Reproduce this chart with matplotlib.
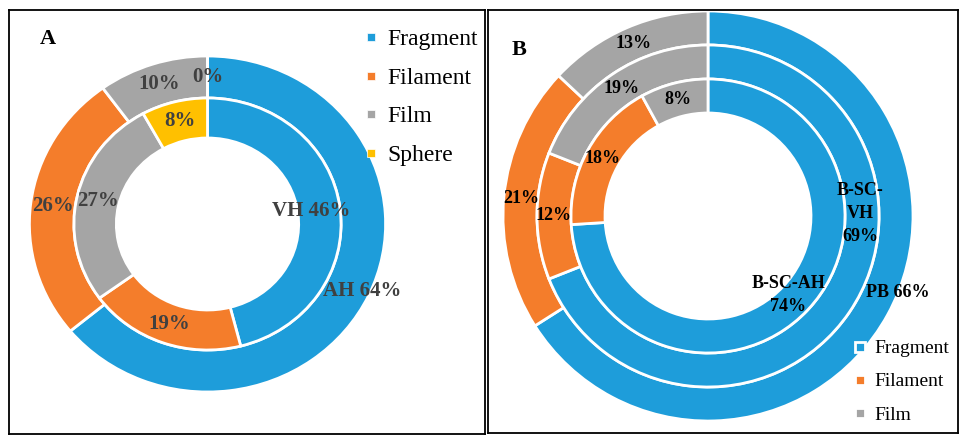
"""Two nested donut charts (A and B) of particle shape shares."""

import math

import matplotlib

matplotlib.use("Agg")
import matplotlib.pyplot as plt
from matplotlib.lines import Line2D

plt.rcParams["font.family"] = ["Liberation Serif", "DejaVu Serif"]

# --- data -------------------------------------------------------------
categories_a = ["Fragment", "Filament", "Film", "Sphere"]
ah_values = [64, 26, 10, 0]
vh_values = [46, 19, 27, 8]

categories_b = ["Fragment", "Filament", "Film"]
pb_values = [66, 21, 13]
bscvh_values = [69, 12, 19]
bscah_values = [74, 18, 8]

COLORS = ["#1E9DDA", "#F47D2B", "#A5A5A5", "#FFC000"]

W, H = 967, 442
fig = plt.figure(figsize=(W / 100, H / 100), dpi=100)


def panel_axes(x0, y0, x1, y1, xscale=1.0):
    """Axes over an image-pixel box; data units are vertical pixels."""
    ax = fig.add_axes([x0 / W, 1 - y1 / H, (x1 - x0) / W, (y1 - y0) / H])
    return ax, (x1 - x0) / xscale, (y1 - y0)


def ring(ax, values, radius, width, center, name, fontsize, color, weight,
         sep=" ", nudges=None, xscale=1.0):
    wedges, _ = ax.pie(values, radius=radius, center=center, startangle=90,
                       counterclock=False, colors=COLORS[:len(values)],
                       wedgeprops=dict(width=width, edgecolor="white", linewidth=2))
    nudges = nudges or {}
    rmid = radius - width / 2
    for i, (w, v) in enumerate(zip(wedges, values)):
        ang = math.radians((w.theta1 + w.theta2) / 2)
        x = center[0] + rmid * math.cos(ang)
        y = center[1] + rmid * math.sin(ang)
        dx, dy = nudges.get(i, (0, 0))
        txt = f"{name}{sep}{v}%" if i == 0 else f"{v}%"
        ax.text(x + dx / xscale, y + dy, txt, ha="center", va="center",
                fontsize=fontsize, color=color, fontweight=weight,
                linespacing=1.45)
    return wedges


def finish(ax, xmax, ymax):
    ax.set_aspect("auto")
    ax.set_xlim(0, xmax)
    ax.set_ylim(0, ymax)
    ax.set_frame_on(True)
    for s in ax.spines.values():
        s.set_linewidth(1.3)
        s.set_color("black")
    ax.set_xticks([])
    ax.set_yticks([])


# --- panel A ------------------------------------------------------------
sx = 1.06
axA, xmaxA, ymaxA = panel_axes(9, 10, 485, 434, xscale=sx)
cA = ((207.5 - 9) / sx, 434 - 224)
ring(axA, ah_values, 168, 42, cA, "AH", 15, "#404040", "bold",
     nudges={0: (14, -4)}, xscale=sx)
ring(axA, vh_values, 126, 40, cA, "VH", 15, "#404040", "bold",
     nudges={0: (-8, 0)}, xscale=sx)
finish(axA, xmaxA, ymaxA)
axA.text((40 - 9) / sx, 434 - 39, "A", fontsize=16, fontweight="bold",
         ha="left", va="center")

handles_a = [Line2D([], [], marker="s", linestyle="none", markersize=6,
                    markerfacecolor=c, markeredgecolor="white", markeredgewidth=0.5)
             for c in COLORS[:len(categories_a)]]
fig.legend(handles_a, categories_a, loc="upper left",
           bbox_to_anchor=(352 / W, 1 - 17 / H), frameon=False,
           fontsize=17, labelspacing=0.72, handlelength=0.6,
           handletextpad=0.4, borderpad=0)

# --- panel B ------------------------------------------------------------
axB, xmaxB, ymaxB = panel_axes(488, 10, 958, 433)
cB = (708 - 488, 433 - 216)
ring(axB, pb_values, 205, 34, cB, "PB", 13, "black", "bold",
     nudges={0: (25, 14)})
ring(axB, bscvh_values, 171, 34, cB, "B-SC-\nVH", 13, "black", "bold",
     sep="\n", nudges={0: (25, 89)})
ring(axB, bscah_values, 137, 34, cB, "B-SC-AH", 13, "black", "bold",
     sep="\n", nudges={0: (-7, 3)})
finish(axB, xmaxB, ymaxB)
axB.text(512 - 488, 433 - 50, "B", fontsize=16, fontweight="bold",
         ha="left", va="center")

handles_b = [Line2D([], [], marker="s", linestyle="none", markersize=6.5,
                    markerfacecolor=c, markeredgecolor="white", markeredgewidth=2)
             for c in COLORS[:len(categories_b)]]
fig.legend(handles_b, categories_b, loc="upper left",
           bbox_to_anchor=(844 / W, 1 - 330 / H), frameon=False,
           fontsize=14, labelspacing=0.8, handlelength=0.6,
           handletextpad=0.45, borderpad=0)

fig.savefig("out.png", dpi=100)
